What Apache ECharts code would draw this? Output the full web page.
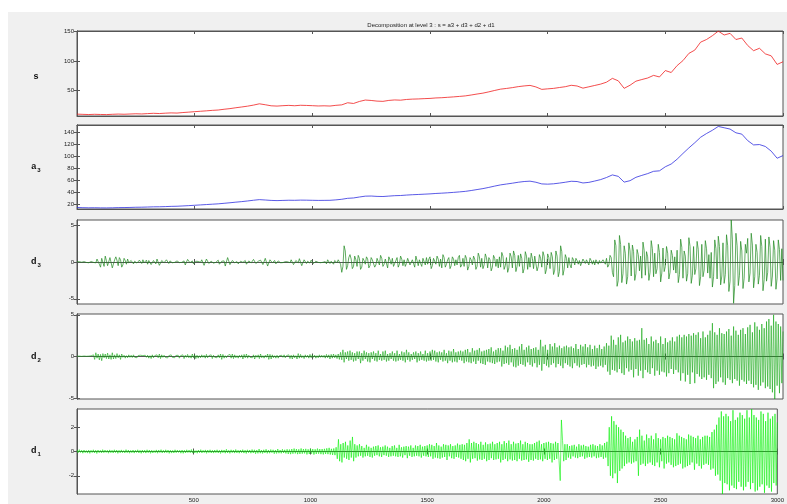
<!DOCTYPE html>
<html>
<head>
<meta charset="utf-8">
<script src="https://cdn.jsdelivr.net/npm/echarts@6/dist/echarts.min.js"></script>
<style>html,body{margin:0;padding:0;background:#fff}#c{width:787px;height:504px}</style>
</head>
<body>
<div id="c"></div>
<script>
// ---- data: samples evenly spread over x = 0..3000 ----
const xMax = 3000;
const xTicks = [500, 1000, 1500, 2000, 2500, 3000];
const sValues = [9.2,8.8,8.5,8.9,8.6,8.4,8.9,9.3,9.0,9.4,9.8,9.5,10.1,10.6,10.2,10.8,11.3,11.0,11.9,12.6,
13.4,14.1,14.8,15.6,16.2,17.5,18.6,20.1,21.4,22.8,24.6,26.8,25.2,23.4,22.9,23.6,24.1,23.5,24.3,24.0,
23.6,23.1,23.4,23.0,24.2,25.0,28.6,27.4,30.8,33.2,32.5,31.4,31.0,32.6,33.4,33.0,34.2,34.8,35.1,35.6,
36.0,36.8,37.2,37.9,38.6,39.4,40.3,41.8,43.5,45.0,47.2,49.6,51.8,53.0,54.4,56.1,57.3,58.2,55.6,51.4,
52.3,53.1,54.6,56.0,58.4,57.2,53.5,55.8,58.1,60.4,63.7,70.2,66.0,53.2,58.5,65.4,68.2,70.8,75.3,72.6,
83.5,80.2,92.0,100.5,112.8,118.4,132.0,136.5,143.0,150.8,144.2,147.0,136.5,139.0,126.3,117.4,121.5,112.0,108.6,94.0,98.5];
const a3Values = [14.5,14.2,14.0,14.1,13.9,13.8,14.0,14.3,14.4,14.6,14.9,15.0,15.3,15.6,15.7,16.0,16.4,16.6,17.1,17.6,
18.2,18.8,19.4,20.0,20.6,21.5,22.4,23.4,24.3,25.4,26.6,27.6,27.0,26.3,26.0,26.3,26.6,26.5,26.8,26.7,
26.5,26.3,26.4,26.5,27.2,28.2,29.8,30.4,32.0,33.4,33.6,33.0,32.8,33.5,34.2,34.5,35.2,35.8,36.2,36.7,
37.2,37.9,38.4,39.0,39.7,40.5,41.4,42.8,44.4,46.0,48.0,50.2,52.2,53.6,55.0,56.6,57.8,58.4,56.6,53.8,
53.4,54.0,55.2,56.6,58.2,57.8,55.4,56.4,58.6,61.0,64.5,68.8,66.4,56.8,59.2,64.8,68.0,71.0,74.8,75.6,
82.4,87.0,95.0,104.6,113.8,122.4,131.6,137.8,143.2,149.6,147.4,145.2,139.0,136.8,126.0,118.8,119.4,116.2,108.4,96.6,101.0];
const d3Values = [
0.03,-0.05,0.04,0.06,-0.03,-0.07,0.05,0.08,-0.06,0.04,-0.1,0.12,0.06,-0.09,-0.05,0.1,-0.12,0.4,0.6,-0.3,-0.7,0.5,0.3,-0.6,0.8,0.2,-0.5,-0.3,0.6,0.4,
-0.8,-0.9,0.3,0.7,0.2,-0.5,0.6,0.3,-0.7,-0.4,0.5,0.2,-0.3,0.4,-0.1,-0.3,0.2,0.15,-0.25,0.1,0.2,-0.15,-0.3,0.25,0.1,-0.2,0.3,-0.1,0.05,0.25,
-0.3,0.2,0.4,-0.35,-0.1,0.2,0.1,-0.25,0.4,0.5,-0.45,-0.3,0.2,0.25,-0.1,-0.15,0.3,0.1,-0.2,0.15,0.05,-0.1,0.12,-0.05,0.1,0.15,-0.12,-0.08,0.1,-0.05,
0.2,0.15,-0.4,-0.2,0.35,0.3,-0.1,0.1,0.15,-0.25,-0.15,0.1,0.05,0.08,-0.15,-0.05,0.3,0.2,-0.45,-0.3,0.4,0.25,-0.2,-0.1,0.1,0.05,-0.15,0.1,-0.05,0.12,
0.25,-0.3,-0.15,0.1,0.2,0.15,-0.55,-0.4,0.6,0.45,-0.35,-0.2,0.2,0.1,-0.1,0.15,0.05,-0.25,-0.1,0.1,0.05,-0.05,0.08,0.2,-0.3,-0.1,0.15,0.1,-0.12,0.05,
0.35,0.2,-0.2,-0.1,0.1,-0.15,0.25,0.1,-0.35,-0.2,0.5,0.3,-0.55,-0.4,0.3,0.2,-0.1,0.05,0.2,-0.25,-0.1,0.15,0.08,-0.1,0.05,-0.08,0.1,0.05,-0.05,0.03,
-0.2,-0.1,0.3,0.15,-0.35,-0.2,0.2,0.1,-0.1,0.45,0.3,-0.5,-0.3,0.3,0.15,-0.2,0.1,0.05,-0.15,0.25,0.1,-0.2,-0.1,0.1,0.05,-0.05,0.08,-0.1,0.06,-0.04,
0.15,0.05,-0.25,0.3,0.1,-0.2,0.1,-0.05,-0.3,0.2,0.1,-0.1,0.3,0.05,-0.3,-1.4,-0.6,2.2,1.5,-1.0,-0.5,0.6,1.0,0.4,-0.9,-0.6,0.8,0.3,-0.6,0.9,
0.5,-1.0,-0.7,0.5,0.2,-0.3,0.7,0.4,-0.8,-0.5,0.6,0.3,0.2,-0.7,-0.4,0.5,0.3,-0.4,0.9,0.5,-0.6,-0.3,0.4,0.2,-0.8,0.7,0.3,-0.3,0.5,-0.6,
-0.4,0.2,0.6,-0.7,-0.3,0.8,0.4,-0.5,0.3,-0.6,-0.2,0.5,0.7,-0.4,-0.6,0.3,0.5,-0.7,0.8,0.2,-0.5,0.3,-0.2,-0.6,0.5,0.3,-0.4,0.6,-0.3,0.4,
0.7,-0.9,-0.5,0.5,0.3,-0.3,0.8,0.4,-0.6,0.4,-0.8,1.0,0.6,-0.7,-0.3,0.3,0.6,-0.9,-0.5,0.7,0.4,-0.5,0.3,-0.4,0.6,0.9,-0.7,-0.4,0.5,-0.6,
0.9,0.5,-1.1,-0.6,0.6,0.3,-0.4,0.8,0.4,-1.0,-0.6,1.2,0.7,-0.7,0.5,-0.9,-0.4,1.1,0.6,-0.8,0.6,0.3,-1.2,-0.7,0.9,0.5,-0.6,0.4,-0.8,0.7,
-0.7,1.3,0.8,-1.0,-0.5,0.6,-1.4,-0.8,1.2,0.7,-0.8,1.5,0.9,-1.3,-0.6,0.9,-0.6,1.1,0.5,-1.5,-0.9,1.4,0.8,-1.0,0.6,-0.7,1.2,0.5,-0.9,0.8,
0.8,-1.2,-0.6,1.0,0.5,-0.7,1.4,0.8,-1.6,-1.0,1.1,0.6,-0.9,1.3,0.7,-1.7,-1.1,1.5,0.8,-2.0,-1.3,2.2,1.4,-1.8,-1.0,1.0,0.5,-0.8,0.6,-0.4,
-0.8,0.6,0.3,-0.4,0.5,0.2,-0.3,0.2,-0.5,-0.3,0.4,0.2,-0.2,0.3,0.15,-0.4,0.5,0.2,-0.3,0.2,-0.4,0.3,0.5,-0.3,0.2,-0.15,-0.4,0.3,0.2,-0.3,
0.5,-0.7,-0.4,0.9,0.6,-1.4,-2.0,3.0,2.2,-3.3,-2.5,3.6,2.4,-2.8,-1.6,2.2,1.2,-3.0,-2.0,2.6,1.5,-1.9,2.3,1.4,-2.5,-1.6,1.7,1.0,-1.2,0.8,
-2.2,2.7,1.6,-1.8,1.4,0.7,-2.5,-1.4,2.9,1.8,-2.0,1.2,-1.6,-0.9,2.4,1.3,-2.7,-1.5,1.9,-1.3,-0.6,2.1,1.2,-2.3,-1.4,1.6,0.9,-1.1,0.7,-1.5,
1.6,-2.8,-1.7,3.1,2.0,-2.2,1.5,0.8,-2.6,-1.6,3.3,2.1,-2.9,-1.8,2.1,-1.7,-0.9,2.8,1.7,-3.2,-2.0,2.4,-2.0,-1.1,2.9,1.8,-1.5,1.0,-2.2,1.3,
-3.4,-2.0,3.0,1.8,-2.3,3.5,2.1,-3.1,-1.9,2.6,-2.9,-1.7,3.7,2.2,-4.0,-2.6,5.7,3.0,-5.6,-3.2,3.9,2.2,-3.2,-1.8,2.8,1.5,-3.6,-2.2,2.4,1.2,
3.2,-2.7,-1.5,3.9,2.3,-3.5,-2.0,2.4,1.3,-3.0,-1.8,3.6,2.1,-3.9,-2.4,3.1,-2.6,-1.4,3.4,2.0,-3.3,-1.9,2.9,1.6,-3.7,-2.2,3.0,1.7,-2.5,1.8,
-2.5];
const d2Values = [
0.04,-0.03,0.05,-0.06,0.02,-0.04,0.06,-0.05,0.03,-0.07,0.05,-0.04,0.08,-0.1,0.2,-0.35,0.45,-0.2,0.3,-0.4,0.25,-0.5,0.35,-0.15,0.3,-0.25,0.4,-0.3,0.2,-0.35,
0.45,-0.3,0.2,-0.25,0.35,-0.15,0.2,-0.35,0.3,-0.1,0.15,-0.2,0.1,-0.15,0.2,-0.1,0.15,-0.12,0.2,-0.1,0.08,-0.15,0.12,-0.1,0.15,-0.08,0.1,-0.12,0.15,-0.1,
0.15,-0.2,0.1,-0.25,0.2,-0.15,0.1,-0.08,0.2,-0.15,0.3,-0.25,0.2,-0.1,0.15,-0.1,0.12,-0.18,0.1,-0.12,0.2,-0.1,0.08,-0.15,0.12,-0.1,0.15,-0.2,0.1,-0.12,
0.2,-0.25,0.15,-0.1,0.25,-0.15,0.1,-0.2,0.3,-0.15,0.2,-0.25,0.15,-0.2,0.1,-0.15,0.2,-0.1,0.15,-0.2,0.25,-0.15,0.1,-0.12,0.2,-0.25,0.15,-0.1,0.12,-0.15,
0.2,-0.15,0.3,-0.35,0.25,-0.2,0.1,-0.15,0.12,-0.1,0.25,-0.2,0.3,-0.25,0.2,-0.15,0.1,-0.2,0.15,-0.1,0.2,-0.3,0.25,-0.15,0.3,-0.2,0.15,-0.1,0.12,-0.15,
0.2,-0.3,0.15,-0.1,0.2,-0.25,0.3,-0.15,0.1,-0.2,0.15,-0.1,0.3,-0.35,0.25,-0.3,0.2,-0.15,0.1,-0.2,0.15,-0.2,0.1,-0.12,0.15,-0.1,0.2,-0.15,0.1,-0.12,
0.2,-0.25,0.15,-0.3,0.2,-0.15,0.1,-0.3,0.35,-0.2,0.25,-0.15,0.1,-0.25,0.2,-0.1,0.15,-0.2,0.25,-0.15,0.2,-0.1,0.15,-0.2,0.1,-0.15,0.2,-0.1,0.15,-0.1,
0.15,-0.2,0.25,-0.15,0.2,-0.3,0.25,-0.2,0.3,-0.15,0.2,-0.25,0.3,-0.35,0.5,-0.4,0.8,-0.7,0.5,-0.3,0.6,-0.5,0.7,-0.4,0.5,-0.6,0.4,-0.5,0.6,-0.3,
0.6,-0.8,0.4,-0.5,0.7,-0.3,0.5,-0.6,0.4,-0.7,0.5,-0.3,0.6,-0.5,0.4,-0.6,0.7,-0.4,0.3,-0.5,0.6,-0.4,0.7,-0.6,0.3,-0.5,0.4,-0.3,0.6,-0.5,
0.4,-0.6,0.7,-0.5,0.3,-0.4,0.6,-0.5,0.5,-0.7,0.8,-0.4,0.5,-0.6,0.3,-0.4,0.5,-0.3,0.6,-0.7,0.4,-0.5,0.6,-0.4,0.3,-0.5,0.7,-0.6,0.4,-0.5,
0.6,-0.5,0.8,-0.4,0.7,-0.6,0.5,-0.7,0.6,-0.4,0.5,-0.6,0.8,-0.5,0.4,-0.8,0.7,-0.5,0.6,-0.7,0.9,-0.6,0.5,-0.7,0.6,-0.4,0.7,-0.5,0.6,-0.8,
0.8,-0.6,0.9,-0.7,0.5,-0.8,1.0,-0.6,0.7,-0.9,0.8,-0.5,1.0,-0.8,0.6,-0.9,0.7,-1.0,0.8,-0.6,0.9,-0.7,1.1,-0.8,0.6,-0.9,0.8,-0.7,1.0,-0.6,
1.0,-1.2,0.7,-0.9,1.3,-0.8,1.1,-1.0,1.4,-0.7,0.9,-1.2,1.0,-1.3,0.8,-1.1,1.2,-0.9,1.5,-1.0,0.8,-1.2,1.1,-0.7,1.3,-1.0,0.9,-1.2,1.0,-0.8,
1.1,-1.3,0.8,-1.0,2.0,-1.7,1.2,-0.9,1.4,-1.1,0.8,-1.3,1.5,-1.0,1.2,-0.8,1.6,-1.3,1.1,-0.9,1.3,-1.1,1.0,-1.4,1.2,-0.8,1.3,-1.0,1.1,-1.2,
1.2,-1.4,1.0,-0.8,1.5,-1.1,0.9,-1.3,1.4,-1.0,1.2,-0.9,1.5,-1.3,1.1,-1.0,1.4,-1.2,0.9,-1.1,1.3,-1.5,1.0,-1.2,1.4,-1.1,0.9,-1.3,1.2,-1.0,
1.6,-1.8,1.3,-2.2,2.5,-1.6,2.0,-1.7,1.4,-1.9,2.3,-1.5,2.6,-2.0,1.7,-2.2,1.9,-1.4,2.4,-1.8,2.1,-1.6,1.8,-2.5,2.2,-1.5,1.9,-2.3,2.0,-1.7,
3.4,-2.6,2.0,-1.6,2.2,-1.9,1.5,-2.1,2.4,-1.4,1.8,-2.3,2.0,-1.7,1.6,-2.2,2.4,-1.8,1.5,-1.9,2.2,-2.4,1.7,-2.0,1.9,-1.5,2.3,-2.1,1.8,-1.6,
2.4,-1.9,2.6,-2.9,2.3,-2.0,2.6,-3.0,2.4,-2.2,2.7,-3.3,2.5,-1.9,2.8,-3.2,2.6,-2.1,2.9,-2.4,2.2,-2.7,3.0,-2.5,2.3,-2.8,2.6,-2.2,3.1,-2.6,
4.0,-3.8,2.9,-3.3,2.6,-3.0,3.4,-2.5,2.8,-3.1,2.7,-3.4,3.0,-2.6,3.3,-2.8,2.5,-3.2,3.6,-2.7,3.1,-2.9,2.6,-3.5,3.2,-2.8,3.4,-3.0,2.7,-3.3,
3.5,-2.9,3.8,-3.3,2.9,-3.7,4.1,-3.4,3.6,-4.0,3.2,-3.5,3.9,-3.1,3.4,-3.8,4.2,-3.6,4.5,-3.9,3.7,-4.3,5.0,-5.1,4.2,-3.5,3.9,-4.4,3.6,-3.2,
3.0];
const d1Values = [
0.12,-0.1,0.15,-0.08,0.1,-0.14,0.12,-0.1,0.08,-0.13,0.11,-0.15,0.1,-0.09,0.14,-0.12,0.1,-0.16,0.12,-0.1,0.09,-0.12,0.15,-0.1,0.12,-0.08,0.1,-0.14,0.13,-0.1,
0.1,-0.12,0.14,-0.09,0.12,-0.15,0.1,-0.11,0.13,-0.1,0.08,-0.12,0.15,-0.1,0.12,-0.14,0.09,-0.1,0.12,-0.13,0.1,-0.08,0.14,-0.12,0.1,-0.15,0.12,-0.1,0.11,-0.13,
0.14,-0.1,0.12,-0.15,0.1,-0.12,0.08,-0.1,0.13,-0.14,0.12,-0.09,0.15,-0.12,0.1,-0.11,0.14,-0.1,0.12,-0.15,0.1,-0.13,0.09,-0.12,0.14,-0.1,0.12,-0.08,0.1,-0.14,
0.12,-0.15,0.1,-0.12,0.14,-0.09,0.12,-0.1,0.16,-0.13,0.1,-0.12,0.08,-0.14,0.12,-0.1,0.15,-0.12,0.1,-0.09,0.13,-0.15,0.12,-0.1,0.14,-0.12,0.1,-0.13,0.12,-0.1,
0.14,-0.12,0.1,-0.16,0.13,-0.1,0.12,-0.14,0.18,-0.12,0.1,-0.15,0.14,-0.1,0.12,-0.13,0.16,-0.12,0.1,-0.14,0.12,-0.1,0.15,-0.13,0.11,-0.16,0.14,-0.1,0.12,-0.14,
0.16,-0.12,0.14,-0.18,0.12,-0.15,0.2,-0.14,0.12,-0.16,0.14,-0.12,0.18,-0.15,0.12,-0.14,0.16,-0.1,0.14,-0.18,0.12,-0.16,0.2,-0.14,0.12,-0.15,0.18,-0.12,0.14,-0.16,
0.18,-0.2,0.16,-0.22,0.2,-0.18,0.24,-0.16,0.2,-0.22,0.18,-0.2,0.25,-0.18,0.2,-0.16,0.22,-0.24,0.18,-0.2,0.22,-0.18,0.2,-0.25,0.18,-0.2,0.24,-0.18,0.2,-0.22,
0.2,-0.24,0.22,-0.2,0.26,-0.22,0.3,-0.25,0.22,-0.28,0.25,-0.3,0.35,-0.6,1.0,-0.8,0.6,-0.9,0.7,-0.5,0.8,-0.6,0.5,-0.7,0.9,-0.5,1.2,-0.8,0.6,-0.5,
0.5,-0.4,0.6,-0.35,0.45,-0.5,0.3,-0.4,0.55,-0.35,0.4,-0.45,0.3,-0.5,0.4,-0.35,0.45,-0.3,0.5,-0.4,0.35,-0.45,0.4,-0.3,0.5,-0.35,0.4,-0.45,0.3,-0.4,
0.45,-0.35,0.5,-0.4,0.3,-0.45,0.55,-0.4,0.35,-0.5,0.4,-0.3,0.45,-0.55,0.4,-0.35,0.5,-0.45,0.3,-0.4,0.5,-0.35,0.45,-0.4,0.55,-0.5,0.4,-0.35,0.45,-0.4,
0.5,-0.45,0.6,-0.4,0.55,-0.6,0.45,-0.5,0.7,-0.55,0.5,-0.6,0.4,-0.5,0.6,-0.45,0.55,-0.7,0.5,-0.4,0.6,-0.55,0.45,-0.6,0.5,-0.45,0.65,-0.5,0.55,-0.6,
0.6,-0.7,0.55,-0.8,0.7,-0.6,1.0,-0.9,0.7,-0.6,0.8,-0.55,0.7,-0.75,0.6,-0.65,0.8,-0.7,0.55,-0.6,0.75,-0.8,0.6,-0.7,0.65,-0.55,0.8,-0.7,0.6,-0.65,
0.7,-0.6,0.8,-0.9,0.6,-0.7,0.85,-0.6,0.7,-0.8,0.9,-0.65,0.6,-0.75,0.8,-0.7,0.65,-0.8,0.7,-0.6,0.9,-0.75,0.6,-0.7,0.8,-0.65,0.7,-0.85,0.6,-0.7,
0.6,-0.75,0.7,-0.6,0.8,-0.7,0.9,-0.65,0.6,-0.8,0.7,-0.6,0.75,-0.7,0.8,-0.6,0.7,-0.9,0.65,-0.7,0.8,-0.6,0.7,-0.75,-2.4,2.6,0.9,-0.8,0.6,-0.7,
0.6,-0.5,0.45,-0.6,0.5,-0.4,0.55,-0.5,0.4,-0.55,0.6,-0.45,0.5,-0.4,0.55,-0.6,0.45,-0.5,0.4,-0.45,0.55,-0.5,0.6,-0.4,0.5,-0.55,0.45,-0.5,0.6,-0.45,
0.5,-0.6,0.7,-0.5,0.8,-1.2,2.0,-2.0,2.9,-2.2,2.5,-1.8,2.2,-2.6,2.0,-1.6,1.8,-1.4,1.6,-1.2,1.3,-1.0,1.1,-0.9,1.2,-1.0,0.8,-0.9,1.0,-0.8,
1.2,-2.0,1.8,-1.1,1.3,-1.0,0.9,-1.2,1.4,-1.0,1.1,-0.9,1.3,-1.1,1.0,-1.2,1.5,-0.9,1.1,-1.3,1.0,-0.8,1.2,-1.4,1.1,-1.0,1.3,-0.9,1.2,-1.1,
1.1,-1.3,1.0,-1.2,1.5,-1.1,1.3,-1.0,1.2,-1.4,1.1,-1.3,1.0,-1.2,1.4,-1.1,1.3,-0.9,1.2,-1.5,1.1,-1.0,1.3,-1.2,1.0,-1.4,1.2,-1.1,1.3,-1.0,
1.3,-1.1,1.2,-1.5,1.6,-1.4,1.8,-2.0,2.2,-1.9,2.8,-2.4,3.3,-3.5,2.9,-2.6,3.1,-2.7,2.9,-3.2,2.5,-2.8,3.4,-3.0,2.6,-3.1,2.8,-2.5,3.2,-2.9,
3.0,-3.2,2.7,-2.9,3.4,-2.5,2.8,-3.1,3.5,-2.6,3.0,-3.3,2.8,-3.2,2.6,-2.9,3.3,-2.7,3.1,-3.4,2.5,-2.8,3.2,-3.0,2.7,-3.3,2.9,-2.6,3.1,-2.8,
2.4];
const sTicks = [50, 100, 150];
const a3Ticks = [20, 40, 60, 80, 100, 120, 140];
const d3Ticks = [-5, 0, 5];
const d2Ticks = [-5, 0, 5];
const d1Ticks = [-2, 0, 2];
const titleText = 'Decomposition at level 3 : s = a3 + d3 + d2 + d1';

// ---- layout / style ----
const panels = [
  {vals: sValues, ticks: sTicks, min: 6, max: 151, top: 31, h: 85, color: '#f02020', width: 0.8, name: '{m|s}', ly: 77},
  {vals: a3Values, ticks: a3Ticks, min: 12, max: 152, top: 125, h: 84, color: '#3030e0', width: 0.8, name: '{m|a}{b|3}', ly: 167},
  {vals: d3Values, ticks: d3Ticks, min: -5.7, max: 5.7, top: 220, h: 84, color: '#1f8a1f', width: 0.7, name: '{m|d}{b|3}', ly: 262},
  {vals: d2Values, ticks: d2Ticks, min: -5.1, max: 5.1, top: 314, h: 85, color: '#13a813', width: 0.6, name: '{m|d}{b|2}', ly: 357},
  {vals: d1Values, ticks: d1Ticks, min: -3.5, max: 3.5, top: 409, h: 85, color: '#00f000', width: 0.6, name: '{m|d}{b|1}', ly: 451}
];
const axisCol = '#555';
const grid = [], xAxis = [], yAxis = [], series = [], graphic = [];
graphic.push({type: 'rect', z: -10, shape: {x: 8, y: 12, width: 779, height: 492}, style: {fill: '#f0f0f0'}, silent: true});
panels.forEach((p, i) => {
  grid.push({left: 77, top: p.top, width: 706, height: p.h, show: true, backgroundColor: '#ffffff', borderColor: axisCol, borderWidth: 1});
  const last = i === panels.length - 1;
  const xa = (pos, lab) => ({
    type: 'value', gridIndex: i, position: pos, min: 0, max: xMax,
    axisLine: {show: true, lineStyle: {color: axisCol, width: 1}},
    axisTick: {show: true, inside: true, length: 3, customValues: xTicks, lineStyle: {color: axisCol}},
    axisLabel: {show: lab, customValues: xTicks, formatter: v => String(v), fontSize: 6, color: '#222', margin: 3, fontFamily: 'Liberation Sans'},
    splitLine: {show: false}
  });
  xAxis.push(xa('bottom', last));
  xAxis.push(xa('top', false));
  const ya = (pos, lab) => ({
    type: 'value', gridIndex: i, position: pos, min: p.min, max: p.max,
    axisLine: {show: true, lineStyle: {color: axisCol, width: 1}},
    axisTick: {show: true, inside: true, length: 3, customValues: p.ticks, lineStyle: {color: axisCol}},
    axisLabel: {show: lab, customValues: p.ticks, formatter: v => String(v), fontSize: 6, color: '#222', margin: 3, fontFamily: 'Liberation Sans'},
    splitLine: {show: false}
  });
  yAxis.push(ya('left', true));
  yAxis.push(ya('right', false));
  const dx = xMax / (p.vals.length - 1);
  series.push({
    type: 'line', xAxisIndex: i * 2, yAxisIndex: i * 2, symbol: 'none', silent: true,
    lineStyle: {color: p.color, width: p.width}, clip: true,
    data: p.vals.map((v, k) => [k * dx, v])
  });
  graphic.push({type: 'text', x: 36, y: p.ly, style: {
    text: p.name, align: 'center', verticalAlign: 'middle',
    rich: {m: {fontSize: 9, fontWeight: 'bold', fill: '#111', fontFamily: 'Liberation Sans'},
           b: {fontSize: 6, fontWeight: 'bold', fill: '#111', padding: [7, 0, 0, 1], fontFamily: 'Liberation Sans'}}
  }});
});
graphic.push({type: 'text', x: 431, y: 25, style: {text: titleText, align: 'center', verticalAlign: 'middle', fontSize: 6, fill: '#222', fontFamily: 'Liberation Sans'}});

const chart = echarts.init(document.getElementById('c'), null, {renderer: 'canvas'});
chart.setOption({backgroundColor: '#ffffff', animation: false, grid, xAxis, yAxis, series, graphic});
</script>
</body>
</html>
